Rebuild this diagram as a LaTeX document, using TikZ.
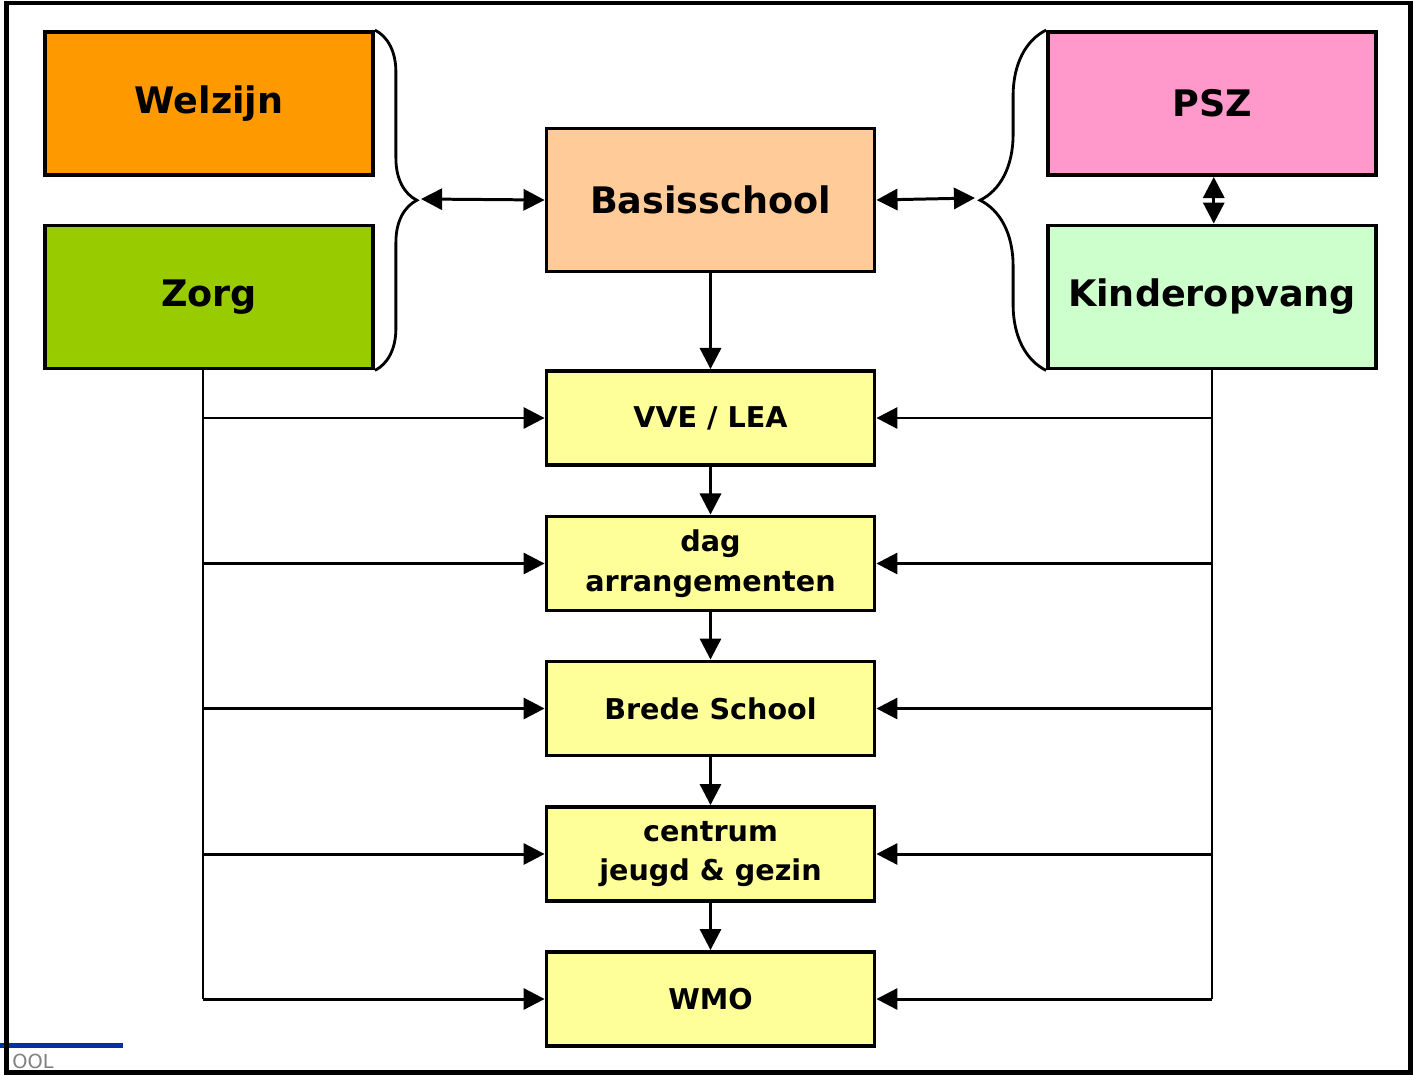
\documentclass[tikz,border=0pt]{standalone}
\usepackage{fontspec}
\setsansfont{DejaVu Sans}
\usetikzlibrary{arrows.meta}
\usetikzlibrary{decorations.pathreplacing}
\definecolor{c_welzijn}{HTML}{FF9900}
\definecolor{c_zorg}{HTML}{99CC00}
\definecolor{c_basis}{HTML}{FFCC99}
\definecolor{c_psz}{HTML}{FF99CC}
\definecolor{c_kinder}{HTML}{CCFFCC}
\definecolor{c_step}{HTML}{FFFF99}
\definecolor{c_logo}{HTML}{0033A0}
\tikzset{
	box/.style = {
		draw=black,
		line width=2.2pt,
		align=center,
		inner sep=0pt,
		text centered
	},
	box_big/.style = {
		box,
		minimum width=6.56cm,
		minimum height=2.86cm,
		font=\sffamily\bfseries\fontsize{20.8}{25}\selectfont
	},
	box_step/.style = {
		box,
		fill=c_step,
		minimum width=6.56cm,
		minimum height=1.88cm,
		font=\sffamily\bfseries\fontsize{16.3}{22.5}\selectfont
	},
	link/.style = {
		line width=1.7pt,
		-{Triangle[length=12pt,width=12pt]}
	},
	link_both/.style = {
		line width=1.7pt,
		{Triangle[length=12pt,width=12pt]}-{Triangle[length=12pt,width=12pt]}
	},
	trunk/.style = {
		line width=1.4pt
	},
	curly/.style = {
		line width=1.6pt,
		decorate,
		decoration={brace, amplitude=#1, aspect=0.5}
	}
}

\begin{document}
\begin{tikzpicture}[x=0.02cm, y=-0.02cm]
\useasboundingbox (0,0) rectangle (1413,1075);

\node [box_big, fill=c_welzijn] (welzijn) at (209,103.5) {Welzijn};
\node [box_big, fill=c_zorg] (zorg) at (209,297) {Zorg};
\node [box_big, fill=c_basis] (basis) at (710.5,200) {Basisschool};
\node [box_big, fill=c_psz] (psz) at (1212,103.5) {PSZ};
\node [box_big, fill=c_kinder] (kinder) at (1212,297) {Kinderopvang};

\node [box_step] (vve) at (710.5,418) {VVE / LEA};
\node [box_step] (dag) at (710.5,563.5) {dag\\arrangementen};
\node [box_step] (brede) at (710.5,708.5) {Brede School};
\node [box_step] (cjg) at (710.5,854) {centrum\\jeugd \& gezin};
\node [box_step] (wmo) at (710.5,999) {WMO};

\draw [curly=0.84cm] (welzijn.north east) -- (zorg.south east);
\draw [curly=1.32cm] (kinder.south west) -- (psz.north west);
\coordinate (lefttip) at (421,199);
\coordinate (righttip) at (975,198);

\draw [link_both] (lefttip) -- (basis.west);
\draw [link_both] (basis.east) -- (righttip);
\draw [link_both] ([xshift=1pt]psz.south) -- ([xshift=1pt]kinder.north);

\draw [link] (basis.south) -- (vve.north);
\draw [link] (vve.south) -- (dag.north);
\draw [link] (dag.south) -- (brede.north);
\draw [link] (brede.south) -- (cjg.north);
\draw [link] (cjg.south) -- (wmo.north);

\coordinate (ltrunk) at ([xshift=-0.12cm]zorg.south);
\coordinate (rtrunk) at (kinder.south);
\draw [trunk] (ltrunk) -- (ltrunk |- wmo.west);
\draw [trunk] (rtrunk) -- (rtrunk |- wmo.east);

\draw [link] (ltrunk |- vve.west) -- (vve.west);
\draw [link] (ltrunk |- dag.west) -- (dag.west);
\draw [link] (ltrunk |- brede.west) -- (brede.west);
\draw [link] (ltrunk |- cjg.west) -- (cjg.west);
\draw [link] (ltrunk |- wmo.west) -- (wmo.west);

\draw [link] (rtrunk |- vve.east) -- (vve.east);
\draw [link] (rtrunk |- dag.east) -- (dag.east);
\draw [link] (rtrunk |- brede.east) -- (brede.east);
\draw [link] (rtrunk |- cjg.east) -- (cjg.east);
\draw [link] (rtrunk |- wmo.east) -- (wmo.east);

\draw [line width=2.3pt, c_logo] (0,1045.5) -- (123,1045.5);
\node [anchor=north west, inner sep=0pt, text=gray, font=\sffamily\fontsize{11}{11}\selectfont] (logo) at (12,1054) {OOL};

\draw [line width=2.8pt] (6.5,3) rectangle (1410.5,1072.5);
\end{tikzpicture}
\end{document}
